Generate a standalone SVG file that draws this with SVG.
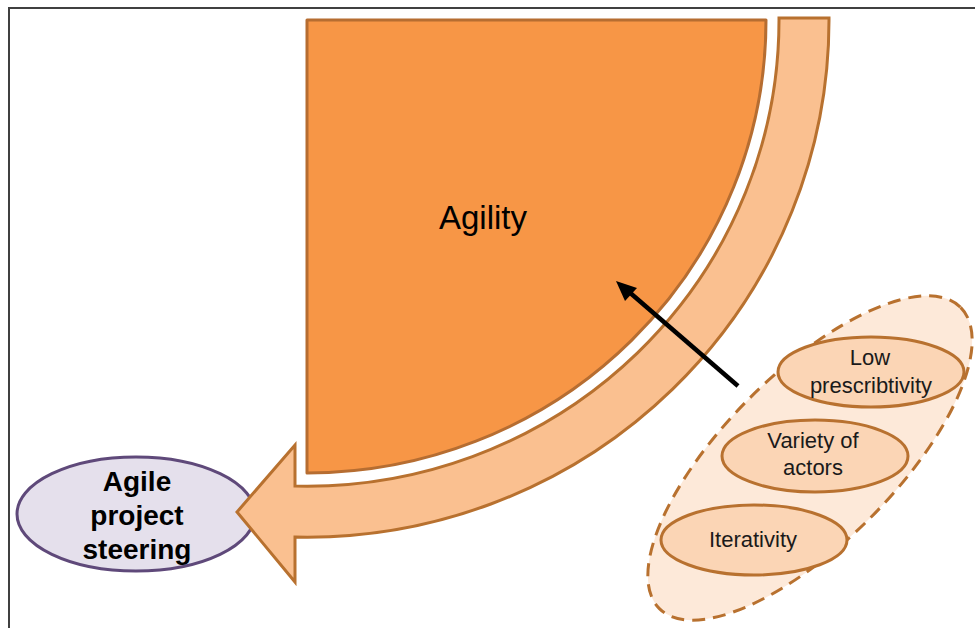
<svg xmlns="http://www.w3.org/2000/svg" width="975" height="628" viewBox="0 0 975 628">
<defs>
<style>
.frame{fill:none;stroke:#404040;stroke-width:2}
.quarter{fill:#F79646;stroke:#B66D31;stroke-width:3;stroke-linejoin:round}
.band{fill:#FAC090;stroke:#B8712F;stroke-width:3;stroke-linejoin:miter}
.steer{fill:#E5E0EC;stroke:#5F497A;stroke-width:3}
.group{fill:#FDE9D9;stroke:#B8712F;stroke-width:3;stroke-dasharray:13 8}
.item{fill:#FBD5B5;stroke:#B8712F;stroke-width:3}
.t{font-family:"Liberation Sans",Arial,sans-serif;text-anchor:middle;fill:#000}
.ti{font-size:22px;fill:#1a1a1a}
.conn{stroke:#000;stroke-width:4.5;fill:none}
</style>
</defs>
<rect width="975" height="628" fill="#fff"/>
<path class="frame" d="M9,628 L9,8 L975,8"/>
<g id="agility">
<path class="quarter" d="M307,20 L766,20 A459,453 0 0 1 307,473 Z"/>
<text class="t" x="483" y="229" font-size="33">Agility</text>
</g>
<g id="agile-project-steering">
<ellipse class="steer" cx="136" cy="514" rx="119" ry="57"/>
<text class="t" x="137" y="491" font-size="28" font-weight="bold">Agile</text>
<text class="t" x="137" y="525" font-size="28" font-weight="bold">project</text>
<text class="t" x="137" y="559" font-size="28" font-weight="bold">steering</text>
</g>
<g id="curved-arrow">
<path class="band" d="M779,18 L829,18 A522,517 0 0 1 295,537 L295,582 L237,512 L295,445 L295,486 A472,466 0 0 0 779,18 Z"/>
</g>
<g id="factors">
<ellipse class="group" cx="810" cy="458" rx="213" ry="85" transform="rotate(-45 810 458)"/>
</g>
<g id="low-prescriptivity">
<ellipse class="item" cx="871" cy="372" rx="93" ry="35"/>
<text class="t ti" x="870" y="365">Low</text>
<text class="t ti" x="871" y="393">prescribtivity</text>
</g>
<g id="variety-of-actors">
<ellipse class="item" cx="815" cy="456" rx="93" ry="36"/>
<text class="t ti" x="813" y="448">Variety of</text>
<text class="t ti" x="813" y="475">actors</text>
</g>
<g id="iterativity">
<ellipse class="item" cx="754" cy="540" rx="93" ry="35"/>
<text class="t ti" x="753" y="547">Iterativity</text>
</g>
<g id="connectors">
<line class="conn" x1="738" y1="386" x2="628" y2="291"/>
<path d="M616,281 L637,288 L625,301 Z" fill="#000"/>
</g>
</svg>
